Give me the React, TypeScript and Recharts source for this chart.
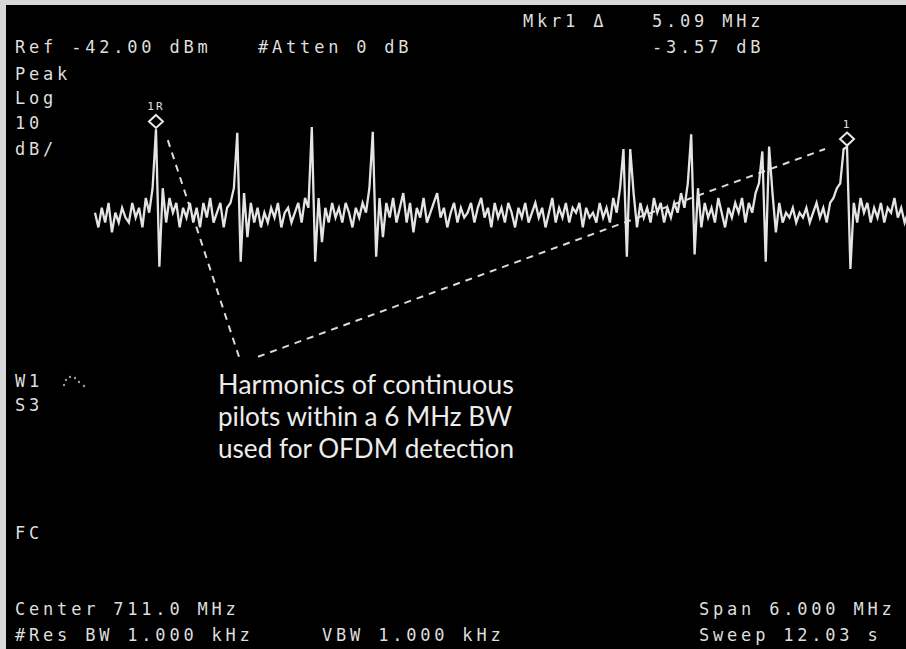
import React from 'react';
import { LineChart, Line, XAxis, YAxis, ReferenceDot, ReferenceLine } from 'recharts';

// sweep amplitudes (dBm), one per sweep point, 708.0 .. 714.0 MHz
const sweepDbm = [
  -65, -68, -64, -67, -63, -69, -65, -67, -64, -66,
  -67, -63, -66, -64, -68, -62, -65, -60, -48, -76,
  -60, -67, -62, -65, -63, -68, -64, -66, -63, -67,
  -64, -68, -63, -66, -62, -67, -65, -63, -68, -64,
  -63, -60, -48.7, -75, -61, -70, -63, -67, -64, -68,
  -65, -67, -64, -66, -63, -68, -65, -64, -67, -65,
  -63, -67, -62, -64, -47.5, -75, -62, -71, -64, -67,
  -63, -66, -64, -67, -63, -65, -68, -64, -66, -63,
  -65, -60, -48.5, -74, -62, -70, -63, -66, -62, -67,
  -64, -61, -67, -63, -69, -64, -66, -62, -67, -65,
  -63, -61, -66, -64, -68, -65, -63, -67, -64, -66,
  -65, -63, -67, -64, -62, -66, -64, -68, -63, -66,
  -64, -67, -63, -65, -68, -64, -66, -63, -67, -65,
  -63, -66, -64, -68, -65, -62, -67, -64, -66, -63,
  -67, -64, -65, -63, -68, -64, -66, -65, -67, -63,
  -66, -64, -67, -62, -65, -60, -52, -74, -52, -61,
  -68, -63, -66, -64, -67, -62, -65, -63, -67, -64,
  -66, -63, -65, -61, -64, -59, -49, -73.5, -60, -68,
  -63, -66, -64, -67, -62, -65, -68, -64, -66, -63,
  -65, -62, -67, -63, -65, -61, -59, -52.5, -75, -51.5,
  -61, -69, -63, -67, -65, -66, -64, -67, -65, -66,
  -64, -67, -65, -63, -66, -64, -67, -63, -62, -60,
  -59, -52, -51.6, -76.5, -63, -67, -62, -65, -63, -67,
  -64, -66, -63, -67, -64, -65, -62, -66, -64, -67, -65,
];

const markers = [
  { i: 18, label: '1R' },
  { i: 222, label: '1' },
];

// annotation leader lines, in sweep point / dBm
const leaderA = [{ x: 21.5, y: -50.2 }, { x: 42.5, y: -94.4 }];
const leaderB = [{ x: 48.1, y: -94.4 }, { x: 215.5, y: -52.0 }];

const refLevel = -42;
const dbPerDiv = 10;

const headerLines = [
  { x: 523, y: 27, t: 'Mkr1 \u0394' },
  { x: 652, y: 27, t: '5.09 MHz' },
  { x: 15, y: 53, t: 'Ref -42.00 dBm' },
  { x: 258, y: 53, t: '#Atten 0 dB' },
  { x: 652, y: 53, t: '-3.57 dB' },
  { x: 15, y: 80, t: 'Peak' },
  { x: 15, y: 104, t: 'Log' },
  { x: 15, y: 129, t: '10' },
  { x: 15, y: 155, t: 'dB/' },
  { x: 15, y: 387, t: 'W1' },
  { x: 15, y: 411, t: 'S3' },
  { x: 15, y: 539, t: 'FC' },
  { x: 15, y: 615, t: 'Center 711.0 MHz' },
  { x: 699, y: 615, t: 'Span 6.000 MHz' },
  { x: 15, y: 641, t: '#Res BW 1.000 kHz' },
  { x: 322, y: 641, t: 'VBW 1.000 kHz' },
  { x: 699, y: 641, t: 'Sweep 12.03 s' },
];

const noteLines = [
  'Harmonics of continuous',
  'pilots within a 6 MHz BW',
  'used for OFDM detection',
];

const rows = sweepDbm.map((v, i) => ({ i, v }));

const MarkerShape = (props: any) => {
  const { cx, cy, label } = props;
  const c = cy - 8;
  return (
    <g>
      <polygon
        points={`${cx},${c - 6.5} ${cx + 7},${c} ${cx},${c + 6.5} ${cx - 7},${c}`}
        fill="#000"
        stroke="#e8e8e8"
        strokeWidth={2}
      />
      <text x={cx} y={c - 11} textAnchor="middle" fill="#e0e0e0" fontSize={11} fontFamily="DejaVu Sans Mono" letterSpacing={2}>
        {label}
      </text>
    </g>
  );
};

const App = () => {
  return (
    <div style={{ position: 'relative', width: 906, height: 649, background: '#d8d8d8', overflow: 'hidden' }}>
      <style>{'body{margin:0}'}</style>
      <div style={{ position: 'absolute', left: 6, top: 5, width: 900, height: 644, background: '#000' }} />
      <div style={{ position: 'absolute', left: 0, top: 0 }}>
        <LineChart width={910} height={649} data={rows} margin={{ top: 100, right: 2, bottom: 59, left: 95 }}>
          <XAxis dataKey="i" type="number" domain={[0, sweepDbm.length - 1]} hide />
          <YAxis type="number" domain={[refLevel - 10 * dbPerDiv, refLevel]} hide />
          <ReferenceLine segment={leaderA} stroke="#dcdcdc" strokeWidth={2} strokeDasharray="7 6" ifOverflow="visible" />
          <ReferenceLine segment={leaderB} stroke="#dcdcdc" strokeWidth={2} strokeDasharray="7 6" ifOverflow="visible" />
          <Line
            dataKey="v"
            type="linear"
            stroke="#e4e4e4"
            strokeWidth={2.3}
            dot={false}
            isAnimationActive={false}
          />
          {markers.map((m) => (
            <ReferenceDot
              key={m.label}
              x={m.i}
              y={sweepDbm[m.i]}
              ifOverflow="visible"
              shape={(p: any) => <MarkerShape {...p} label={m.label} />}
            />
          ))}
        </LineChart>
      </div>
      <svg width={906} height={649} style={{ position: 'absolute', left: 0, top: 0 }}>
        {headerLines.map((h) => (
          <text key={h.t} x={h.x} y={h.y} fill="#dedede" fontSize={17} fontFamily="DejaVu Sans Mono" letterSpacing={3.8}>
            {h.t}
          </text>
        ))}
        <g fill="#9a9a9a">
          <circle cx={66} cy={380} r={1.2} />
          <circle cx={70} cy={377} r={1.2} />
          <circle cx={75} cy={378} r={1.2} />
          <circle cx={79} cy={382} r={1.2} />
          <circle cx={84} cy={386} r={1.2} />
          <circle cx={64} cy={385} r={1.2} />
        </g>
        {noteLines.map((t, k) => (
          <text key={t} x={218} y={394 + k * 32} fill="#ececec" fontSize={26} fontFamily="Lato" textLength={296 - (k === 1 ? 2 : 0)} lengthAdjust="spacingAndGlyphs">
            {t}
          </text>
        ))}
      </svg>
    </div>
  );
};

export default App;
